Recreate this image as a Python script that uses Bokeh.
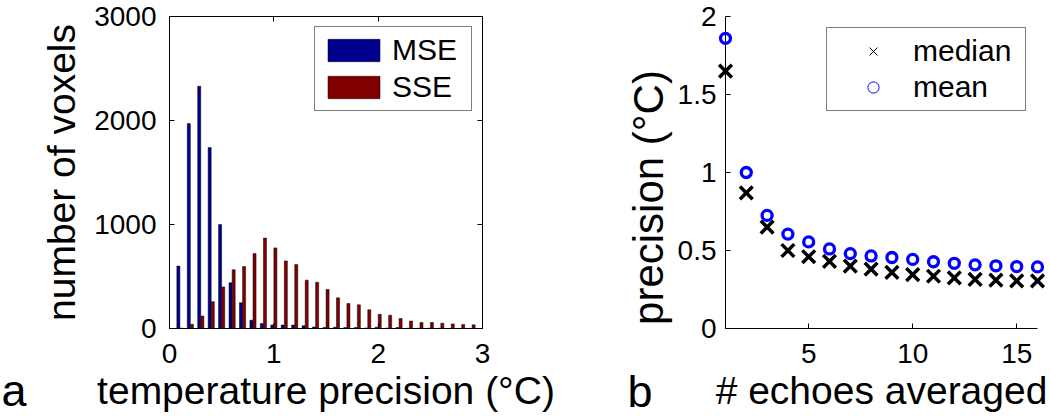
from math import pi
from bokeh.plotting import figure
from bokeh.layouts import row
from bokeh.models import (Range1d, FixedTicker, NumeralTickFormatter, Legend, LegendItem,
                          Label, LinearAxis, CustomJSTickFormatter)
from bokeh.embed import file_html
from bokeh.resources import INLINE

# ---------------- data ----------------
bin_centers = [0.1, 0.2, 0.3, 0.4, 0.5, 0.6, 0.7, 0.8, 0.9, 1.0,
               1.1, 1.2, 1.3, 1.4, 1.5, 1.6, 1.7, 1.8, 1.9, 2.0,
               2.1, 2.2, 2.3, 2.4, 2.5, 2.6, 2.7, 2.8, 2.9]
mse_counts = [600, 1970, 2330, 1740, 1000, 440, 248, 80, 48, 33,
              33, 33, 26, 14, 10, 12, 10, 10, 5, 12,
              4, 10, 3, 2, 2, 2, 1, 1, 1]
sse_counts = [3, 40, 120, 258, 400, 565, 595, 720, 870, 775,
              650, 615, 465, 445, 375, 295, 240, 228, 180, 137,
              128, 96, 72, 58, 58, 51, 44, 38, 35]
hist_xticks = [0, 1, 2, 3]
hist_yticks = [0, 1000, 2000, 3000]

echoes = [1, 2, 3, 4, 5, 6, 7, 8, 9, 10, 11, 12, 13, 14, 15, 16]
prec_median = [1.65, 0.87, 0.65, 0.50, 0.46, 0.43, 0.40, 0.38, 0.36, 0.345,
               0.335, 0.325, 0.315, 0.31, 0.305, 0.305]
prec_mean = [1.86, 1.00, 0.725, 0.605, 0.555, 0.51, 0.48, 0.465, 0.455, 0.443,
             0.428, 0.418, 0.408, 0.402, 0.397, 0.395]
echo_xticks = [5, 10, 15]
prec_yticks = [0, 0.5, 1, 1.5, 2]

FONT = "Liberation Sans"
BLUE_BAR = "#00008F"
RED_BAR = "#800000"


def style_axis(ax, ticks, standoff):
    ax.ticker = FixedTicker(ticks=ticks)
    ax.axis_line_color = "black"
    ax.major_tick_line_color = "black"
    ax.major_tick_in = 5
    ax.major_tick_out = 0
    ax.minor_tick_line_color = None
    ax.major_label_text_font = FONT
    ax.major_label_text_font_size = "28px"
    ax.major_label_text_color = "black"
    ax.major_label_standoff = standoff


def style_xlabel(ax, text):
    ax.axis_label = text
    ax.axis_label_text_font = FONT
    ax.axis_label_text_font_size = "39px"
    ax.axis_label_text_font_style = "normal"
    ax.axis_label_text_color = "black"
    ax.axis_label_standoff = 3


# ---------------- panel a: histogram ----------------
p1 = figure(width=560, height=416, output_backend="svg", toolbar_location=None,
            x_range=Range1d(0, 3), y_range=Range1d(0, 3000),
            min_border_left=169, min_border_right=78, min_border_top=15, min_border_bottom=88)
p1.grid.visible = False
p1.outline_line_color = "black"
p1.outline_line_width = 1
p1.background_fill_color = "white"
p1.border_fill_color = "white"

style_axis(p1.xaxis[0], hist_xticks, 15)
style_axis(p1.yaxis[0], hist_yticks, 13)
p1.xaxis[0].formatter = NumeralTickFormatter(format="0")
p1.yaxis[0].formatter = NumeralTickFormatter(format="0")
style_xlabel(p1.xaxis[0], "temperature precision (°C)")
p1.yaxis[0].axis_label = "number of voxels"
p1.yaxis[0].axis_label_text_font = FONT
p1.yaxis[0].axis_label_text_font_size = "39px"
p1.yaxis[0].axis_label_text_font_style = "normal"
p1.yaxis[0].axis_label_text_color = "black"
p1.yaxis[0].axis_label_standoff = 8

for side, ticks in (("above", hist_xticks), ("right", hist_yticks)):
    ax = LinearAxis(ticker=FixedTicker(ticks=ticks),
                    formatter=CustomJSTickFormatter(code="return ''"),
                    major_tick_in=5, major_tick_out=0, minor_tick_line_color=None,
                    axis_line_color="black", major_tick_line_color="black",
                    major_label_text_font_size="0px", major_label_standoff=0)
    p1.add_layout(ax, side)

blue_x = [c - 0.015 for c in bin_centers]
red_x = [c + 0.015 for c in bin_centers]
rb = p1.vbar(x=blue_x, top=mse_counts, width=0.029, bottom=0,
             fill_color=BLUE_BAR, line_color="black", line_width=0.5)
rr = p1.vbar(x=red_x, top=sse_counts, width=0.029, bottom=0,
             fill_color=RED_BAR, line_color="black", line_width=0.5)

leg1 = Legend(items=[LegendItem(label="MSE", renderers=[rb]),
                     LegendItem(label="SSE", renderers=[rr])],
              location="top_right", margin=10, padding=6, spacing=3,
              glyph_width=65, glyph_height=28, label_standoff=6, label_width=73,
              label_text_font=FONT, label_text_font_size="30px", label_text_color="black",
              border_line_color="black", border_line_width=1,
              background_fill_color="white", background_fill_alpha=1.0)
p1.add_layout(leg1)

# panel letter (kept in a side panel so it is not clipped to the frame)
p1.add_layout(Label(x=-1.61, y=-594, text="a",
                    text_font=FONT, text_font_size="45px", text_color="black",
                    text_align="left", text_baseline="alphabetic"), "right")

# ---------------- panel b: precision vs echoes ----------------
p2 = figure(width=490, height=416, output_backend="svg", toolbar_location=None,
            x_range=Range1d(1, 16), y_range=Range1d(0, 2),
            min_border_left=165, min_border_right=13, min_border_top=16, min_border_bottom=88)
p2.grid.visible = False
p2.outline_line_color = None
p2.background_fill_color = "white"
p2.border_fill_color = "white"

style_axis(p2.xaxis[0], echo_xticks, 15)
style_axis(p2.yaxis[0], prec_yticks, 9)
p2.xaxis[0].formatter = NumeralTickFormatter(format="0")
p2.yaxis[0].formatter = NumeralTickFormatter(format="0.[0]")
style_xlabel(p2.xaxis[0], "# echoes averaged")

r_med = p2.scatter(x=echoes, y=prec_median, marker="x", size=18, line_color="black",
                   line_width=3.5, level="overlay")
r_mean = p2.scatter(x=echoes, y=prec_mean, marker="circle", size=10, line_color="#0000FF",
                    line_width=3.3, fill_color=None, level="overlay")

# thin-line stand-ins so the legend shows MATLAB-style small markers
lg_med = p2.scatter(x=echoes[:1], y=prec_median[:1], marker="x", size=8,
                    line_color="black", line_width=1, visible=False)
lg_mean = p2.scatter(x=echoes[:1], y=prec_mean[:1], marker="circle", size=11,
                     line_color="#0000FF", line_width=1, fill_color=None, visible=False)

leg2 = Legend(items=[LegendItem(label="median", renderers=[lg_med]),
                     LegendItem(label="mean", renderers=[lg_mean])],
              location="top_right", margin=11, padding=6, spacing=2,
              glyph_width=80, glyph_height=28, label_standoff=0, label_width=106,
              label_text_font=FONT, label_text_font_size="30px", label_text_color="black",
              border_line_color="black", border_line_width=1,
              background_fill_color="white", background_fill_alpha=1.0)
p2.add_layout(leg2)

p2.add_layout(Label(x=-2.70, y=0.8397, text="precision (°C)", angle=pi / 2,
                    text_font=FONT, text_font_size="42px", text_color="black",
                    text_align="center", text_baseline="alphabetic"), "left")
p2.add_layout(Label(x=-3.712, y=-0.404, text="b",
                    text_font=FONT, text_font_size="45px", text_color="black",
                    text_align="left", text_baseline="alphabetic"), "left")

layout = row(p1, p2)
open("out.html", "w").write(file_html(layout, INLINE))
